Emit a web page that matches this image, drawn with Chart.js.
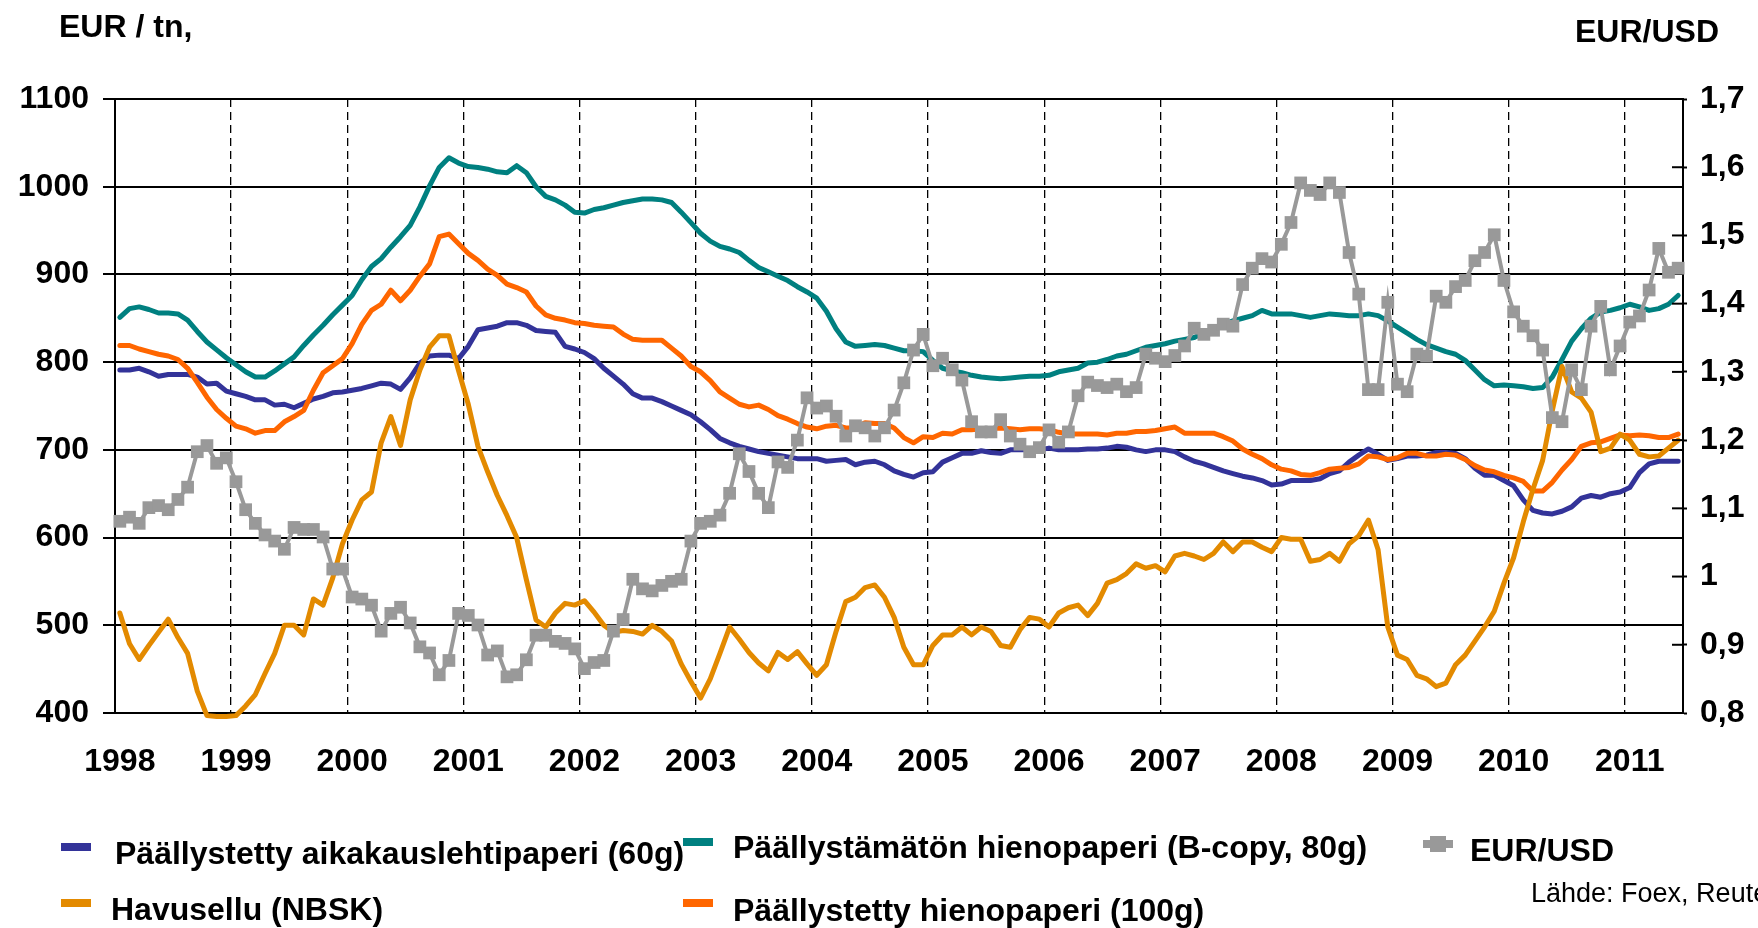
<!DOCTYPE html>
<html lang="fi">
<head>
<meta charset="UTF-8">
<title>Paperin ja sellun hinnat sekä EUR/USD</title>
<script src="https://cdn.jsdelivr.net/npm/chart.js"></script>
<style>
  html, body { margin: 0; padding: 0; background: #fff; }
  #wrap { position: relative; width: 1758px; height: 928px; overflow: hidden;
          font-family: "Liberation Sans", Arial, sans-serif; color: #000; }
  #wrap canvas { position: absolute; left: 0; top: 0; }
  .txt { position: absolute; font-weight: bold; font-size: 32px; line-height: 32px; white-space: nowrap; }
  .src { position: absolute; font-size: 27px; line-height: 27px; white-space: nowrap; }
  .sw  { position: absolute; }
</style>
</head>
<body>
<div id="wrap">
  <canvas id="priceChart" width="1758" height="928"></canvas>
  <div class="txt" style="left:59px;top:10px">EUR / tn,</div>
  <div class="txt" style="left:1575px;top:15px">EUR/USD</div>
  <div id="legend"></div>
  <div class="src" style="left:1531px;top:880px">Lähde: Foex, Reuters</div>
</div>

<script>
// monthly data, Jan 1998 - Jun 2011
const yearLabels = ['1998','1999','2000','2001','2002','2003','2004','2005','2006','2007','2008','2009','2010','2011'];

// Päällystetty aikakauslehtipaperi (60g), EUR/tn
const coatedMag = [
  791,791,793,789,784,786,786,786,783,775,776,767,
  764,761,757,757,751,752,748,753,758,761,765,766,
  768,770,773,776,775,769,782,799,807,808,808,804,
  818,837,839,841,845,845,842,836,835,834,818,815,
  811,804,793,784,775,764,759,759,755,750,745,740,
  732,723,713,708,704,701,698,696,694,692,690,690,
  690,687,688,689,683,686,687,683,676,672,669,674,
  675,686,691,696,696,699,697,696,700,700,700,700,
  702,700,700,700,701,701,702,704,703,700,698,700,
  700,698,692,687,684,680,676,673,670,668,665,660,
  661,665,665,665,667,673,676,686,694,701,695,688,
  690,693,693,694,697,697,696,690,679,671,671,665,
  659,643,631,628,627,630,635,645,648,646,650,652,
  657,674,684,687,687,687
];

// Päällystämätön hienopaperi (B-copy, 80g), EUR/tn
const uncoatedFine = [
  851,861,863,860,856,856,855,848,835,823,814,805,
  797,789,783,783,790,798,806,819,831,842,854,865,
  876,894,909,918,931,943,956,977,1001,1022,1033,1027,
  1023,1022,1020,1017,1016,1024,1016,1000,989,985,979,971,
  970,974,976,979,982,984,986,986,985,982,971,959,
  947,938,932,929,925,916,908,903,898,893,886,880,
  873,858,838,823,818,819,820,819,816,813,813,812,
  802,793,790,788,785,783,782,781,782,783,784,784,
  785,789,791,793,799,800,803,807,809,813,817,819,
  821,824,826,828,834,838,843,847,850,853,859,855,
  855,855,853,851,853,855,854,853,853,855,853,847,
  840,833,826,820,816,812,809,802,791,780,773,774,
  773,772,770,771,783,803,824,838,850,857,859,862,
  866,863,859,861,866,876
];

// Päällystetty hienopaperi (100g), EUR/tn
const coatedFine = [
  819,819,815,812,809,807,803,793,777,760,746,736,
  727,724,719,722,722,732,738,745,768,788,796,804,
  821,843,859,866,882,870,882,898,912,943,946,935,
  924,916,906,899,889,885,880,864,854,850,848,845,
  844,842,841,840,832,826,825,825,825,816,807,795,
  789,779,766,759,752,749,751,746,739,735,730,726,
  724,727,728,725,725,731,730,730,725,714,708,715,
  714,719,718,723,723,724,724,725,724,723,724,724,
  723,720,718,718,718,718,717,719,719,721,721,722,
  724,726,719,719,719,719,715,710,701,695,690,683,
  678,676,672,671,674,678,679,680,684,693,692,689,
  691,696,696,693,693,695,694,689,682,677,675,671,
  668,664,653,653,663,677,689,704,708,709,713,717,
  716,717,716,714,714,718
];

// Havusellu (NBSK), EUR/tn
const nbskPulp = [
  514,479,461,477,492,507,486,468,425,397,396,396,
  397,408,421,445,468,500,500,489,530,523,554,593,
  620,643,652,708,738,705,757,791,817,830,830,790,
  752,704,675,648,625,600,552,506,498,514,525,523,
  528,515,500,492,494,493,490,500,493,482,456,436,
  417,439,468,498,484,469,457,448,469,461,470,456,
  443,455,493,527,532,543,546,532,509,475,455,455,
  477,489,489,498,489,498,493,477,475,495,509,507,
  498,514,520,523,511,525,548,552,559,570,565,568,
  561,579,582,579,575,582,595,584,595,595,589,584,
  600,598,598,573,575,582,573,593,602,620,586,498,
  466,461,443,439,430,434,455,466,482,498,516,548,
  577,618,655,688,745,795,766,759,743,698,702,718,
  711,695,692,693,702,711
];

// EUR/USD (right axis)
const eurUsd = [
  1.081,1.087,1.078,1.101,1.104,1.098,1.113,1.131,1.183,1.192,1.166,1.174,
  1.139,1.098,1.078,1.061,1.052,1.040,1.072,1.069,1.069,1.058,1.011,1.011,
  0.970,0.967,0.958,0.920,0.946,0.955,0.932,0.897,0.888,0.856,0.877,0.946,
  0.943,0.929,0.885,0.891,0.853,0.856,0.878,0.914,0.914,0.905,0.902,0.894,
  0.865,0.874,0.877,0.920,0.937,0.996,0.982,0.979,0.987,0.993,0.996,1.052,
  1.078,1.081,1.090,1.122,1.180,1.154,1.122,1.101,1.168,1.160,1.200,1.262,
  1.247,1.250,1.235,1.206,1.221,1.218,1.206,1.218,1.244,1.284,1.332,1.355,
  1.309,1.320,1.303,1.288,1.227,1.212,1.212,1.230,1.206,1.194,1.183,1.189,
  1.215,1.197,1.212,1.265,1.285,1.280,1.277,1.282,1.271,1.277,1.326,1.320,
  1.315,1.324,1.338,1.364,1.355,1.361,1.370,1.367,1.428,1.452,1.466,1.461,
  1.487,1.519,1.577,1.566,1.560,1.577,1.563,1.475,1.414,1.274,1.274,1.402,
  1.282,1.271,1.326,1.323,1.411,1.402,1.425,1.434,1.463,1.475,1.501,1.434,
  1.388,1.367,1.353,1.332,1.233,1.227,1.303,1.274,1.367,1.396,1.303,1.338,
  1.373,1.382,1.420,1.481,1.446,1.452
];

const leftTicks = [400, 500, 600, 700, 800, 900, 1000, 1100];
const rightTicks = [0.8, 0.9, 1.0, 1.1, 1.2, 1.3, 1.4, 1.5, 1.6, 1.7];

// month categories
const months = [];
yearLabels.forEach(y => {
  for (let m = 1; m <= 12; m++) {
    if (months.length < coatedMag.length) months.push(y + '-' + String(m).padStart(2, '0'));
  }
});

const FONT = '"Liberation Sans", Arial, sans-serif';

// short tick marks on the inner side of the right axis
const innerTicks = {
  id: 'innerTicks',
  afterDraw(chart) {
    const s = chart.scales.y1;
    const ctx = chart.ctx;
    ctx.save();
    ctx.strokeStyle = '#000';
    ctx.lineWidth = 2;
    s.ticks.forEach((t, i) => {
      const y = s.getPixelForTick(i);
      ctx.beginPath();
      ctx.moveTo(s.left - 11, y);
      ctx.lineTo(s.left, y);
      ctx.stroke();
    });
    ctx.restore();
  }
};

const lineBase = { borderWidth: 5, pointRadius: 0, borderJoinStyle: 'round', borderCapStyle: 'round', tension: 0, yAxisID: 'y' };

const datasets = [
  { label: 'EUR/USD', data: eurUsd, yAxisID: 'y1', borderColor: '#999999', backgroundColor: '#999999',
    borderWidth: 4, pointStyle: 'rect', pointRadius: 9, pointBorderWidth: 0, tension: 0, order: 0 },
  Object.assign({ label: 'Päällystetty aikakauslehtipaperi (60g)', data: coatedMag, borderColor: '#333399', order: 3 }, lineBase),
  Object.assign({ label: 'Havusellu (NBSK)', data: nbskPulp, borderColor: '#E38A00', order: 1, clip: 6 }, lineBase),
  Object.assign({ label: 'Päällystämätön hienopaperi (B-copy, 80g)', data: uncoatedFine, borderColor: '#008080', order: 4 }, lineBase),
  Object.assign({ label: 'Päällystetty hienopaperi (100g)', data: coatedFine, borderColor: '#FF6600', order: 2 }, lineBase)
];

new Chart(document.getElementById('priceChart').getContext('2d'), {
  type: 'line',
  data: { labels: months, datasets: datasets },
  plugins: [innerTicks],
  options: {
    responsive: false,
    animation: false,
    devicePixelRatio: 1,
    events: [],
    layout: { padding: { top: 99, left: 0, right: 0, bottom: 0 } },
    plugins: { legend: { display: false }, tooltip: { enabled: false } },
    scales: {
      x: {
        type: 'category',
        offset: true,
        grid: {
          offset: true,
          drawTicks: false,
          lineWidth: 1.3,
          color: c => (c.index > 0 && c.index % 12 === 0) ? '#000' : 'rgba(0,0,0,0)'
        },
        border: { display: true, color: '#000', width: 2, dash: [8, 5] },
        ticks: {
          autoSkip: false, maxRotation: 0, minRotation: 0, padding: 30, color: '#000',
          font: { family: FONT, size: 32, weight: 'bold' },
          callback: (v, i) => (i % 12 === 0 ? months[i].slice(0, 4) : '')
        },
        afterFit: s => { s.height = 215; }
      },
      y: {
        position: 'left',
        min: leftTicks[0], max: leftTicks[leftTicks.length - 1],
        afterBuildTicks: s => { s.ticks = leftTicks.map(v => ({ value: v })); },
        grid: { color: '#000', lineWidth: 2, tickLength: 12, tickColor: '#000', tickWidth: 2 },
        border: { display: true, color: '#000', width: 2 },
        ticks: {
          padding: 14, color: '#000', font: { family: FONT, size: 32, weight: 'bold' },
          callback: v => String(v)
        },
        afterFit: s => { s.width = 115; }
      },
      y1: {
        position: 'right',
        min: rightTicks[0], max: rightTicks[rightTicks.length - 1],
        afterBuildTicks: s => { s.ticks = rightTicks.map(v => ({ value: v })); },
        grid: { drawOnChartArea: false, tickLength: 4, tickColor: '#000', tickWidth: 2 },
        border: { display: true, color: '#000', width: 2 },
        ticks: {
          padding: 13, color: '#000', font: { family: FONT, size: 32, weight: 'bold' },
          callback: v => String(Math.round(v * 10) / 10).replace('.', ',')
        },
        afterFit: s => { s.width = 75; }
      }
    }
  }
});

// legend, built from the datasets
const legendPos = [
  { ds: 1, sx: 61,  sy: 843, tx: 115, ty: 837 },
  { ds: 3, sx: 683, sy: 838, tx: 733, ty: 831 },
  { ds: 0, sx: 1423, sy: 840, tx: 1470, ty: 834, marker: true },
  { ds: 2, sx: 61,  sy: 899, tx: 111, ty: 893 },
  { ds: 4, sx: 683, sy: 899, tx: 733, ty: 894 }
];
const legendEl = document.getElementById('legend');
legendPos.forEach(p => {
  const d = datasets[p.ds];
  const bar = document.createElement('div');
  bar.className = 'sw';
  bar.style.cssText = `left:${p.sx}px;top:${p.sy}px;width:30px;height:8px;background:${d.borderColor}`;
  legendEl.appendChild(bar);
  if (p.marker) {
    const sq = document.createElement('div');
    sq.className = 'sw';
    sq.style.cssText = `left:${p.sx + 7}px;top:${p.sy - 4}px;width:16px;height:16px;background:${d.borderColor}`;
    legendEl.appendChild(sq);
  }
  const t = document.createElement('div');
  t.className = 'txt';
  t.style.left = p.tx + 'px';
  t.style.top = p.ty + 'px';
  t.textContent = d.label;
  legendEl.appendChild(t);
});
</script>
</body>
</html>
